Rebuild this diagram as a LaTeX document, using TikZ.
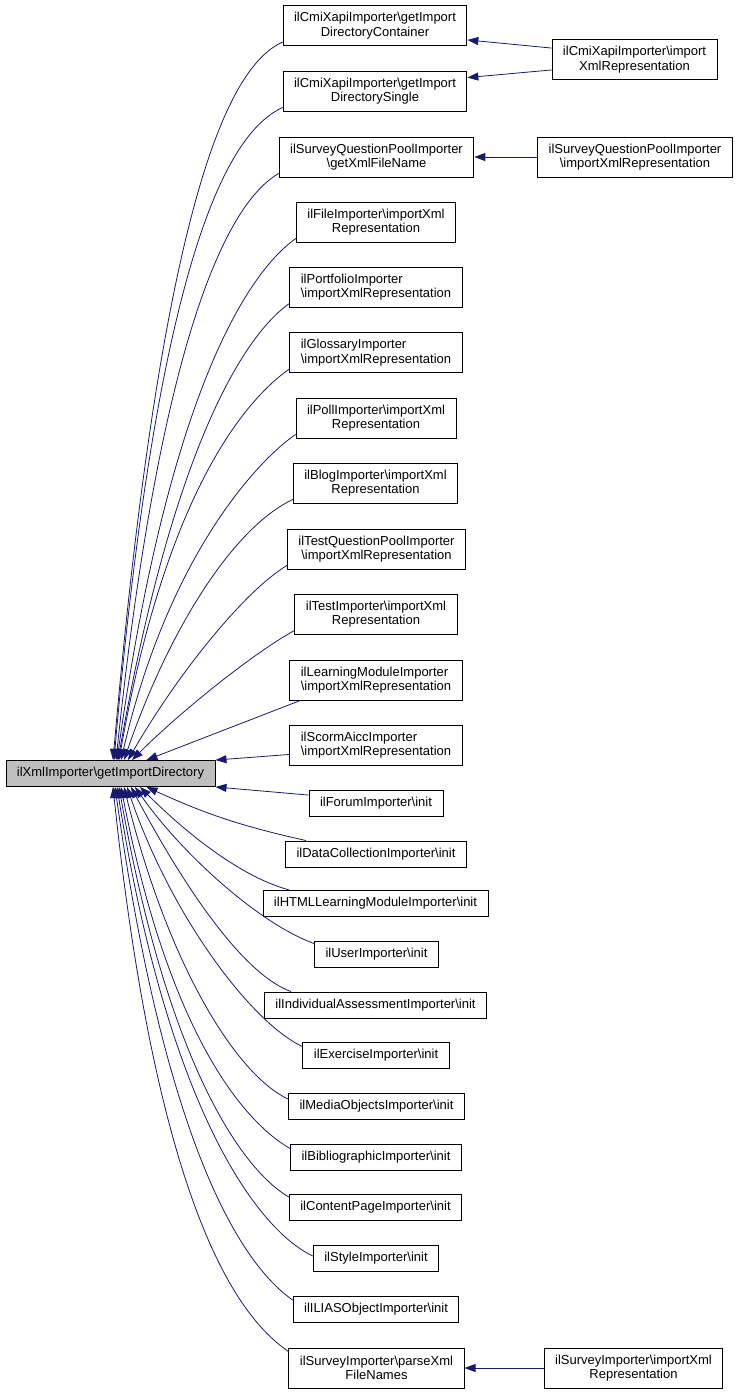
\documentclass[tikz,border=0pt]{standalone}
\usepackage{fontspec}
\setmainfont{Liberation Sans}
\usepackage{xcolor}
\usetikzlibrary{arrows.meta}

\definecolor{midblue}{HTML}{191970}
\newcommand{\bksl}{\textbackslash{}}

\begin{document}
\begin{tikzpicture}[x=1pt,y=1pt,
  fnbox/.style={draw=black,line width=0.9pt,fill=white,inner xsep=11pt,inner ysep=2pt,
    minimum height=26pt,font=\fontsize{13}{14.5}\selectfont},
  twoline/.style={fnbox,minimum height=40pt,align=center},
  twoleft/.style={fnbox,minimum height=40pt,align=left},
  >={Triangle[length=11pt,width=8pt]},
  calls/.style={->,draw=midblue,line width=0.8pt}]

\useasboundingbox (0,0) rectangle (737,-1395);

% the function itself:
\node[fnbox,fill=gray!50] (getdir) at (110.5,-773.5) {ilXmlImporter\bksl getImportDirectory};

% callers, upper half:
\node[twoline] (cmicont) at (375,-25.5) {ilCmiXapiImporter\bksl getImport\\DirectoryContainer};
\node[twoline] (cmisingle) at (375,-91) {ilCmiXapiImporter\bksl getImport\\DirectorySingle};
\node[twoline] (sqpname) at (376.5,-157) {ilSurveyQuestionPoolImporter\\\bksl getXmlFileName};
\node[twoline] (fileimp) at (376,-222) {ilFileImporter\bksl importXml\\Representation};
\node[twoleft] (portimp) at (376,-287) {ilPortfolioImporter\\\bksl importXmlRepresentation};
\node[twoleft] (glossimp) at (376,-352.5) {ilGlossaryImporter\\\bksl importXmlRepresentation};
\node[twoline] (pollimp) at (376,-418) {ilPollImporter\bksl importXml\\Representation};
\node[twoline] (blogimp) at (375.5,-483) {ilBlogImporter\bksl importXml\\Representation};
\node[twoline] (tqpimp) at (376.5,-549) {ilTestQuestionPoolImporter\\\bksl importXmlRepresentation};
\node[twoline] (testimp) at (376,-614) {ilTestImporter\bksl importXml\\Representation};
\node[twoleft] (lmimp) at (376,-680) {ilLearningModuleImporter\\\bksl importXmlRepresentation};
\node[twoleft] (scormimp) at (376,-745) {ilScormAiccImporter\\\bksl importXmlRepresentation};

% callers, lower half:
\node[fnbox] (forumimp) at (376,-803.5) {ilForumImporter\bksl init};
\node[fnbox] (dcimp) at (376,-854) {ilDataCollectionImporter\bksl init};
\node[fnbox] (htmlimp) at (375.5,-903.5) {ilHTMLLearningModuleImporter\bksl init};
\node[fnbox] (userimp) at (376.5,-954) {ilUserImporter\bksl init};
\node[fnbox] (iaimp) at (375.5,-1005) {ilIndividualAssessmentImporter\bksl init};
\node[fnbox] (exerimp) at (376,-1055) {ilExerciseImporter\bksl init};
\node[fnbox] (moimp) at (376.5,-1106.5) {ilMediaObjectsImporter\bksl init};
\node[fnbox] (bibimp) at (376,-1157) {ilBibliographicImporter\bksl init};
\node[fnbox] (cpimp) at (375.5,-1207.5) {ilContentPageImporter\bksl init};
\node[fnbox] (styleimp) at (376,-1258.5) {ilStyleImporter\bksl init};
\node[fnbox] (iliasimp) at (376,-1309.5) {ilILIASObjectImporter\bksl init};
\node[twoline] (survparse) at (376.5,-1368) {ilSurveyImporter\bksl parseXml\\FileNames};

% second level:
\node[twoline] (cmixml) at (634.5,-59.5) {ilCmiXapiImporter\bksl import\\XmlRepresentation};
\node[twoline] (sqpxml) at (635,-157) {ilSurveyQuestionPoolImporter\\\bksl importXmlRepresentation};
\node[twoline] (survxml) at (633.5,-1368) {ilSurveyImporter\bksl importXml\\Representation};

\draw[calls] ([yshift=-9pt]cmixml.north west) -- ([yshift=6pt]cmicont.south east);
\draw[calls] ([yshift=10pt]cmixml.south west) -- ([yshift=-7pt]cmisingle.north east);
\draw[calls] (sqpxml.west) -- (sqpname.east);
\draw[calls] (survxml.west) -- (survparse.east);

% edges into the top of the box
\draw[calls] ([yshift=4pt]cmicont.south west) to[out=205,in=85,out distance=50pt,in distance=600pt] ([xshift=2.5pt]getdir.north);
\draw[calls] ([yshift=4pt]cmisingle.south west) to[out=205,in=85,out distance=50pt,in distance=540pt] ([xshift=3.5pt]getdir.north);
\draw[calls] ([yshift=4pt]sqpname.south west) to[out=210,in=84,out distance=45pt,in distance=470pt] ([xshift=5.5pt]getdir.north);
\draw[calls] ([yshift=4pt]fileimp.south west) to[out=215,in=82,out distance=45pt,in distance=400pt] ([xshift=6.5pt]getdir.north);
\draw[calls] ([yshift=4pt]portimp.south west) to[out=215,in=80,out distance=50pt,in distance=330pt] ([xshift=7.5pt]getdir.north);
\draw[calls] ([yshift=4pt]glossimp.south west) to[out=215,in=80,out distance=55pt,in distance=270pt] ([xshift=8.5pt]getdir.north);
\draw[calls] ([yshift=4pt]pollimp.south west) to[out=215,in=77,out distance=55pt,in distance=200pt] ([xshift=10.5pt]getdir.north);
\draw[calls] ([yshift=4pt]blogimp.south west) to[out=205,in=71,out distance=65pt,in distance=140pt] ([xshift=13.5pt]getdir.north);
\draw[calls] ([yshift=4pt]tqpimp.south west) to[out=211,in=60,out distance=50pt,in distance=100pt] ([xshift=17.5pt]getdir.north);
\draw[calls] ([yshift=4pt]testimp.south west) to[out=209,in=45,out distance=50pt,in distance=65pt] ([xshift=21.5pt]getdir.north);
\draw[calls] ([xshift=11pt]lmimp.south west) -- ([xshift=36pt]getdir.north);
\draw[calls] ([yshift=11pt]scormimp.south west) -- (getdir.north east);

% edges into the bottom of the box
\draw[calls] ([yshift=-5pt]forumimp.north west) -- (getdir.south east);
\draw[calls] ([xshift=21pt]dcimp.north west) to[bend left=6] ([xshift=36pt]getdir.south);
\draw[calls] ([xshift=27pt]htmlimp.north west) to[out=165,in=-45,out distance=55pt,in distance=55pt] ([xshift=29.5pt]getdir.south);
\draw[calls] ([yshift=-3pt]userimp.north west) to[out=160,in=-55,out distance=60pt,in distance=80pt] ([xshift=24.5pt]getdir.south);
\draw[calls] ([xshift=27pt]iaimp.north west) to[out=160,in=-62,out distance=55pt,in distance=100pt] ([xshift=20.5pt]getdir.south);
\draw[calls] ([yshift=-5pt]exerimp.north west) to[out=155,in=-71,out distance=55pt,in distance=140pt] ([xshift=16.5pt]getdir.south);
\draw[calls] ([yshift=-6pt]moimp.north west) to[out=155,in=-76,out distance=55pt,in distance=190pt] ([xshift=13.5pt]getdir.south);
\draw[calls] ([yshift=-5pt]bibimp.north west) to[out=150,in=-79,out distance=55pt,in distance=250pt] ([xshift=10.5pt]getdir.south);
\draw[calls] ([yshift=-3pt]cpimp.north west) to[out=150,in=-80,out distance=50pt,in distance=290pt] ([xshift=8.5pt]getdir.south);
\draw[calls] ([yshift=-11pt]styleimp.north west) to[out=155,in=-81,out distance=55pt,in distance=340pt] ([xshift=6.5pt]getdir.south);
\draw[calls] ([yshift=-4pt]iliasimp.north west) to[out=145,in=-82,out distance=50pt,in distance=390pt] ([xshift=4.5pt]getdir.south);
\draw[calls] ([yshift=-4pt]survparse.north west) to[out=145,in=-84,out distance=50pt,in distance=450pt] ([xshift=2.5pt]getdir.south);

\end{tikzpicture}
\end{document}
